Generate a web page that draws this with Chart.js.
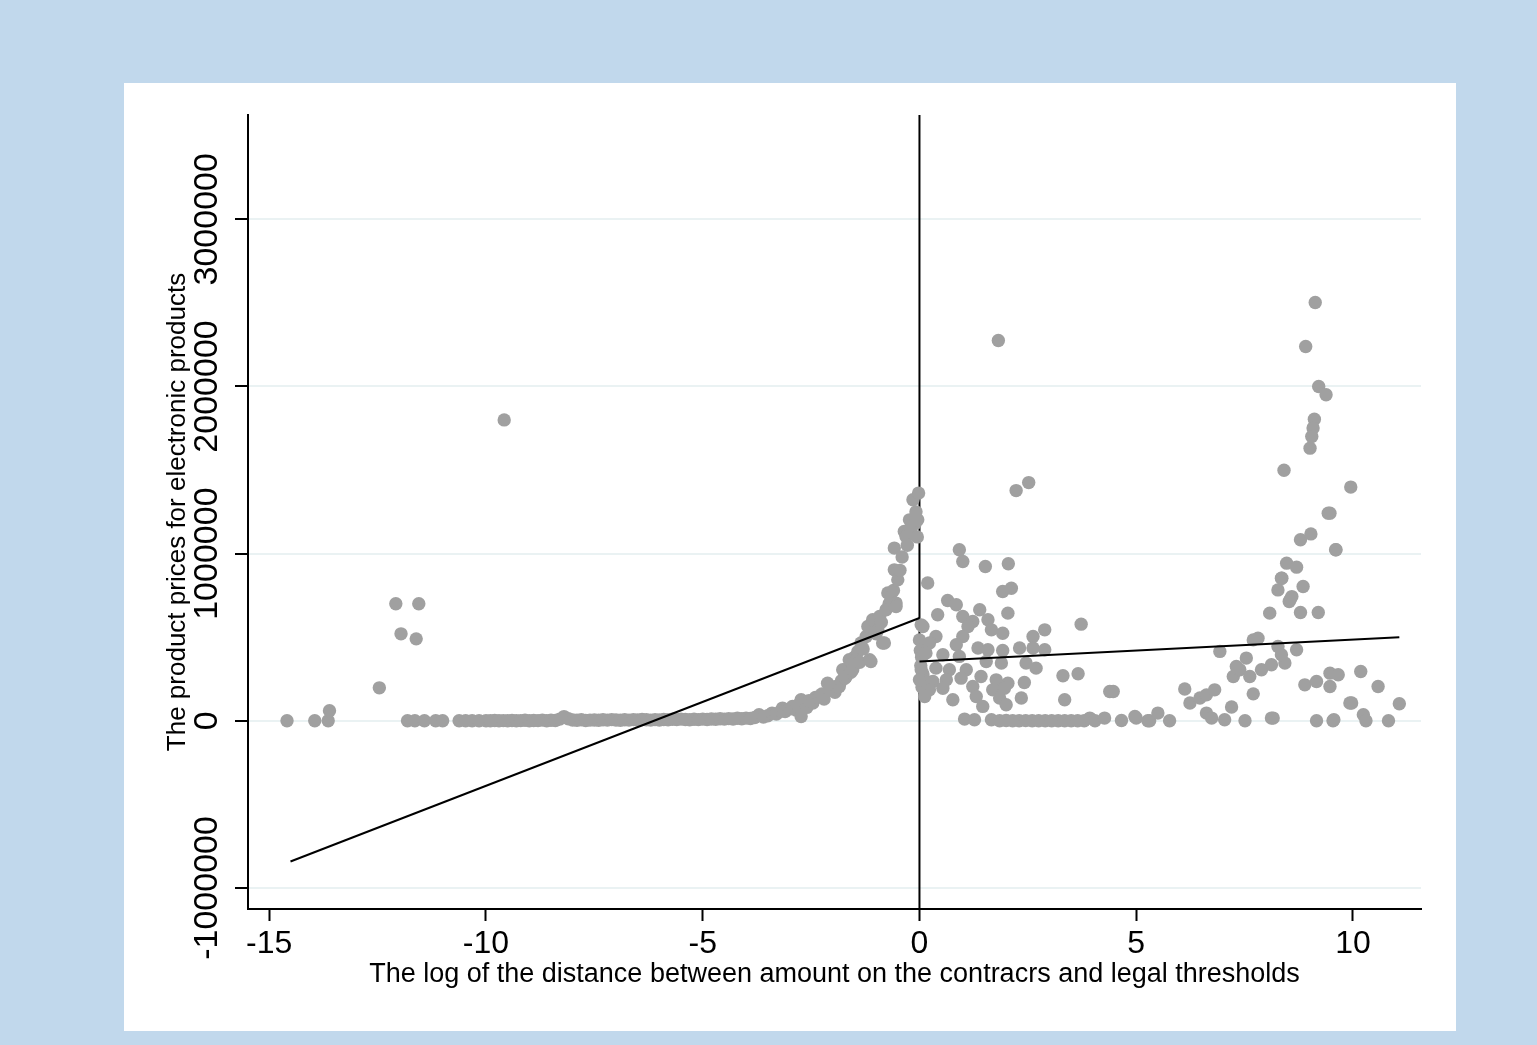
<!DOCTYPE html>
<html>
<head>
<meta charset="utf-8">
<script src="https://cdn.jsdelivr.net/npm/chart.js@4.4.1/dist/chart.umd.min.js"></script>
<style>
  body { margin: 0; background: rgb(193, 216, 236); width: 1537px; height: 1045px; overflow: hidden; }
  #box { position: absolute; left: 124px; top: 83px; width: 1332px; height: 948px; background: #fff; }
</style>
</head>
<body>
<div id="box"><canvas id="chart" width="1332" height="948"></canvas></div>
<script>
// axis ticks
const xTickValues = [-15, -10, -5, 0, 5, 10]
const yTickValues = [-1000000, 0, 1000000, 2000000, 3000000]

// scatter below the threshold (distance, price in thousands)
const leftDist = [
  -14.59, -13.95, -13.64, -13.61, -12.46, -12.08, -11.55, -11.96, -11.61, -9.58,
  -11.81, -11.64, -11.42, -11.16, -11.0, -10.62, -10.47, -10.32, -10.16,
  -10.0, -9.9, -9.8, -9.7, -9.6, -9.5, -9.4, -9.3, -9.2, -9.1,
  -9.0, -8.9, -8.8, -8.7, -8.6, -8.5, -8.4, -8.3, -8.2, -8.1,
  -8.0, -7.9, -7.8, -7.7, -7.6, -7.5, -7.4, -7.3, -7.2, -7.1,
  -7.0, -6.9, -6.8, -6.7, -6.6, -6.5, -6.4, -6.3, -6.2, -6.1,
  -6.0, -5.9, -5.8, -5.7, -5.6, -5.5, -5.4, -5.3, -5.2, -5.1,
  -5.0, -4.9, -4.8, -4.7, -4.6, -4.5, -4.4, -4.3, -4.2, -4.1,
  -4.0, -3.9, -3.8, -3.7, -3.6, -3.5, -3.4, -3.3, -3.2, -3.16,
  -3.1, -3.0, -2.93, -2.85, -2.8, -2.73, -2.73, -2.65, -2.6, -2.55,
  -2.46, -2.4, -2.31, -2.25, -2.2, -2.12, -2.08, -2.0, -1.95, -1.92,
  -1.85, -1.8, -1.77, -1.72, -1.69, -1.62, -1.62, -1.58, -1.54, -1.5,
  -1.46, -1.42, -1.38, -1.35, -1.3, -1.23, -1.19, -1.15, -1.15, -1.12,
  -1.08, -1.0, -0.96, -0.92, -0.88, -0.85, -0.81, -0.77, -0.73, -0.7,
  -0.65, -0.6, -0.58, -0.58, -0.54, -0.54, -0.5, -0.45, -0.4, -0.35,
  -0.31, -0.28, -0.23, -0.2, -0.15, -0.1, -0.04, -0.02, -0.05, -0.08
]
const leftPrice = [
  0, 0, 0, 60, 197, 700, 700, 520, 490, 1800,
  0, 0, 0, 0, 0, 0, 0, 0, 0,
  0, 0, 2, 0, 1, 0, 2, 0, 1, 3,
  0, 2, 1, 4, 0, 3, 2, 10, 25, 12,
  5, 3, 6, 2, 4, 5, 3, 6, 4, 7,
  5, 3, 6, 4, 7, 5, 8, 6, 4, 7,
  5, 8, 6, 9, 7, 10, 8, 6, 9, 7,
  10, 8, 11, 9, 12, 10, 13, 11, 15, 12,
  16, 14, 20, 36, 22, 30, 46, 40, 58, 76,
  55, 70, 86, 65, 95, 126, 26, 105, 80, 120,
  106, 140, 145, 160, 130, 225, 185, 200, 170, 205,
  205, 240, 305, 255, 265, 325, 365, 290, 305, 380,
  365, 414, 350, 465, 430, 504, 564, 365, 564, 355,
  604, 520, 544, 624, 590, 465, 465, 664, 764, 700,
  724, 780, 903, 1033, 704, 684, 843, 900, 980, 1132,
  1102, 1050, 1202, 1150, 1322, 1180, 1202, 1362, 1100, 1250
]

// scatter above the threshold
const rightDist = [
  0.04, 0.0, 0.02, 0.05, 0.03, 0.08, 0.1, 0.06,
  0.92, 1.0, 1.52, 2.05, 0.19, 1.92, 2.12, 2.04, 0.65, 0.85,
  0.42, 1.39, 1.0, 1.23, 1.58, 1.12, 1.66, 1.92, 0.08, 2.89,
  3.73, 2.62, 0.38, 1.0, 0.23, 0.85, 1.35, 1.58, 1.92, 2.31,
  2.62, 2.89, 0.15, 0.54, 0.92, 1.54, 1.89, 2.46, 2.69, 0.04,
  0.38, 0.69, 1.08, 3.31, 3.66, 0.0, 0.31, 0.62, 0.96, 1.42,
  1.77, 2.04, 2.42, 0.23, 0.54, 1.23, 1.69, 1.96, 0.12, 0.77,
  1.31, 1.85, 2.35, 3.35, 1.46, 2.0, 1.04, 1.27, 1.66, 2.23,
  2.52, 1.82,
  1.85, 2.0, 2.15, 2.3, 2.45, 2.6, 2.75, 2.9, 3.05, 3.2,
  3.35, 3.5, 3.65, 3.8, 3.93, 4.05, 4.27, 4.39, 4.47, 4.66,
  4.97, 5.0, 5.27, 5.31, 5.5, 5.77, 6.12, 6.24, 6.47, 6.62,
  6.81, 6.62, 6.74, 7.04, 7.2, 6.93, 7.51, 7.7, 7.24, 7.39,
  7.62, 7.54, 7.31, 7.89, 8.12, 7.7, 7.81, 8.27, 8.43, 8.35,
  8.7, 8.08, 8.27, 8.55, 8.59, 8.79, 9.2, 8.85, 8.35, 8.12,
  8.16, 8.89, 9.16, 9.47, 9.66, 9.47, 9.16, 9.54, 9.93, 9.95,
  9.47, 9.61, 10.18, 10.58, 9.97, 11.07, 10.24, 10.3, 10.82, 9.56,
  9.13, 8.91, 9.21, 9.38, 9.11, 9.08, 9.05, 9.01, 8.41, 9.43,
  8.79, 9.03, 9.6, 8.47, 8.7, 8.36, 8.53
]
const rightPrice = [
  574, 484, 420, 380, 330, 280, 250, 200,
  1023, 953, 923, 939, 824, 773, 793, 644, 720, 694,
  634, 664, 624, 594, 604, 564, 544, 524, 564, 544,
  578, 504, 504, 504, 465, 455, 435, 425, 420, 435,
  435, 425, 405, 395, 385, 355, 345, 345, 315, 305,
  315, 305, 305, 269, 281, 245, 235, 245, 255, 265,
  245, 225, 229, 185, 195, 205, 185, 195, 145, 126,
  145, 136, 136, 126, 86, 96, 10, 6, 6, 1377,
  1425, 2275,
  0, 2, 0, 0, 1, 0, 0, 0, 0, 0,
  0, 0, 0, 0, 16, 0, 16, 175, 175, 2,
  26, 16, 0, 0, 46, 0, 190, 106, 136, 155,
  185, 46, 16, 6, 82, 415, 0, 161, 265, 305,
  265, 375, 325, 305, 335, 484, 494, 444, 345, 395,
  425, 644, 783, 724, 743, 648, 648, 803, 853, 16,
  16, 215, 235, 285, 275, 205, 0, 0, 106, 1398,
  1242, 1023, 295, 205, 106, 102, 36, 0, 0, 6,
  2502, 2239, 2000, 1950, 1804, 1751, 1700, 1631, 1499, 1242,
  1083, 1118, 1023, 943, 919, 853, 714
]

// fitted lines and the cutoff line
const leftFitDist = [-14.51, 0]
const leftFitPrice = [-842, 615]
const rightFitDist = [0, 11.07]
const rightFitPrice = [355, 500]
const cutoffDist = [0, 0]
const cutoffPrice = [-1126, 3624]

function toPoints(xs, ys){
    return xs.map((x, i) => ({x: x, y: ys[i] * 1000}))
}

const font = 'Liberation Sans, Arial, Helvetica, sans-serif'

const data = {
  datasets: [{
    label: 'fit left',
    data: toPoints(leftFitDist, leftFitPrice),
    showLine: true,
    pointRadius: 0,
    borderColor: '#000',
    borderWidth: 2,
    order: 0
  }, {
    label: 'fit right',
    data: toPoints(rightFitDist, rightFitPrice),
    showLine: true,
    pointRadius: 0,
    borderColor: '#000',
    borderWidth: 2,
    order: 0
  }, {
    label: 'prices left',
    data: toPoints(leftDist, leftPrice),
    pointRadius: 6.7,
    pointBackgroundColor: 'rgb(160,160,160)',
    pointBorderWidth: 0,
    order: 1
  }, {
    label: 'prices right',
    data: toPoints(rightDist, rightPrice),
    pointRadius: 6.7,
    pointBackgroundColor: 'rgb(160,160,160)',
    pointBorderWidth: 0,
    order: 1
  }, {
    label: 'cutoff',
    data: toPoints(cutoffDist, cutoffPrice),
    showLine: true,
    pointRadius: 0,
    borderColor: '#000',
    borderWidth: 2,
    order: 2
  }]
}

const config = {
  type: 'scatter',
  data: data,
  options: {
    responsive: false,
    animation: false,
    devicePixelRatio: 1,
    layout: { padding: { left: 0, right: 35, top: 32, bottom: 0 } },
    plugins: { legend: { display: false }, tooltip: { enabled: false } },
    scales: {
      x: {
        type: 'linear',
        min: -15.49,
        max: 11.57,
        afterBuildTicks: s => { s.ticks = xTickValues.map(v => ({value: v})) },
        afterFit: s => { s.height = 122 },
        border: { color: '#000', width: 2 },
        grid: { drawOnChartArea: false, drawTicks: true, tickLength: 12, tickColor: '#000', tickWidth: 2 },
        ticks: { autoSkip: false, padding: 4, color: '#000', font: { family: font, size: 32 }, callback: v => String(v) },
        title: { display: true, text: 'The log of the distance between amount on the contracrs and legal thresholds',
                 color: '#000', font: { family: font, size: 27 }, padding: { top: 0, bottom: 40 } }
      },
      y: {
        type: 'linear',
        min: -1126000,
        max: 3624000,
        afterBuildTicks: s => { s.ticks = yTickValues.map(v => ({value: v})) },
        afterFit: s => { s.width = 124 },
        border: { color: '#000', width: 2 },
        grid: { color: '#eaf2f3', lineWidth: 2, drawTicks: true, tickLength: 13, tickColor: '#000', tickWidth: 2 },
        ticks: { autoSkip: false, minRotation: 90, maxRotation: 90, crossAlign: 'center', padding: -44,
                 color: '#000', font: { family: font, size: 34 }, callback: v => String(v) },
        title: { display: true, text: 'The product prices for electronic products',
                 color: '#000', font: { family: font, size: 26 }, padding: { top: 38, bottom: 0 } }
      }
    }
  }
}

let ctx = document.getElementById('chart').getContext('2d')
new Chart(ctx, config)
</script>
</body>
</html>
